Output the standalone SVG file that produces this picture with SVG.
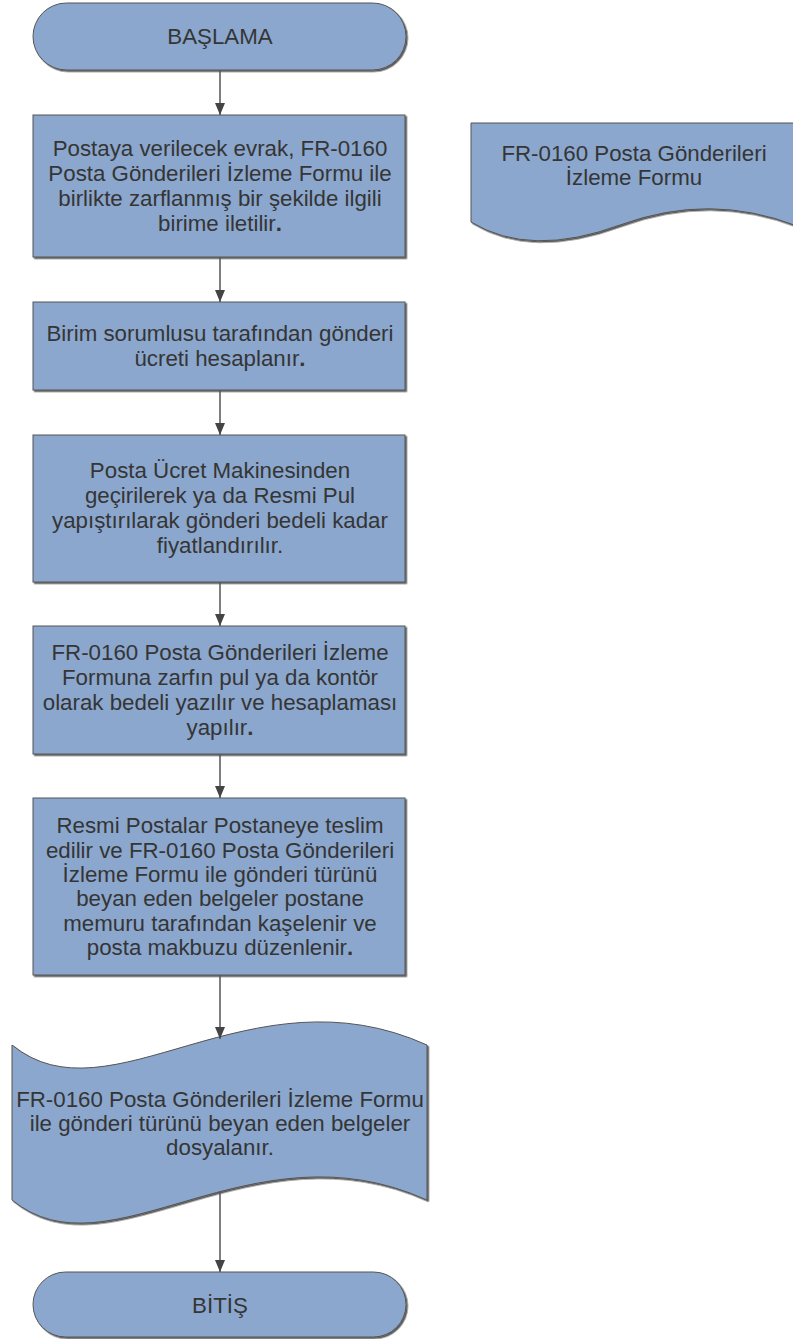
<svg xmlns="http://www.w3.org/2000/svg" width="793" height="1339" viewBox="0 0 793 1339">
<style>
.shape{fill:#8BA7CD;stroke:#555;stroke-width:1;filter:url(#sh)}
.t{font-family:"Liberation Sans",Arial,sans-serif;font-size:22.3px;fill:#353535;text-anchor:middle}
.c{stroke:#555;stroke-width:1.5;fill:none;marker-end:url(#ah)}
</style>
<defs>
<filter id="sh" x="-5%" y="-5%" width="115%" height="125%">
<feDropShadow dx="1.5" dy="1.5" stdDeviation="0.7" flood-color="#000" flood-opacity="0.65"/>
</filter>
<marker id="ah" viewBox="0 0 12 10" markerWidth="12" markerHeight="10" refX="12" refY="5" orient="auto" markerUnits="userSpaceOnUse">
<path d="M0,0 L12,5 L0,10 z" fill="#444"/>
</marker>
</defs>
<rect width="793" height="1339" fill="#fff"/>
<g id="start">
<rect class="shape" x="33" y="3" width="373" height="67" rx="33.5" ry="33.5"/>
<text class="t" x="220" y="44">BAŞLAMA</text>
</g>
<g id="step1">
<rect class="shape" x="33" y="115" width="372" height="142"/>
<text class="t" x="220" y="156">Postaya verilecek evrak, FR-0160</text>
<text class="t" x="220" y="181">Posta Gönderileri İzleme Formu ile</text>
<text class="t" x="220" y="206">birlikte zarflanmış bir şekilde ilgili</text>
<text class="t" x="220" y="231">birime iletilir<tspan font-weight="bold">.</tspan></text>
</g>
<g id="step2">
<rect class="shape" x="33" y="302" width="372" height="88"/>
<text class="t" x="220" y="341">Birim sorumlusu tarafından gönderi</text>
<text class="t" x="220" y="366">ücreti hesaplanır<tspan font-weight="bold">.</tspan></text>
</g>
<g id="step3">
<rect class="shape" x="33" y="435" width="372" height="147"/>
<text class="t" x="220" y="478">Posta Ücret Makinesinden</text>
<text class="t" x="220" y="503">geçirilerek ya da Resmi Pul</text>
<text class="t" x="220" y="528">yapıştırılarak gönderi bedeli kadar</text>
<text class="t" x="220" y="553">fiyatlandırılır.</text>
</g>
<g id="step4">
<rect class="shape" x="33" y="626" width="372" height="128"/>
<text class="t" x="220" y="660">FR-0160 Posta Gönderileri İzleme</text>
<text class="t" x="220" y="685">Formuna zarfın pul ya da kontör</text>
<text class="t" x="220" y="710">olarak bedeli yazılır ve hesaplaması</text>
<text class="t" x="220" y="735">yapılır<tspan font-weight="bold">.</tspan></text>
</g>
<g id="step5">
<rect class="shape" x="33" y="798" width="372" height="177"/>
<text class="t" x="220" y="833">Resmi Postalar Postaneye teslim</text>
<text class="t" x="220" y="858">edilir ve FR-0160 Posta Gönderileri</text>
<text class="t" x="220" y="882">İzleme Formu ile gönderi türünü</text>
<text class="t" x="220" y="906">beyan eden belgeler postane</text>
<text class="t" x="220" y="931">memuru tarafından kaşelenir ve</text>
<text class="t" x="220" y="955">posta makbuzu düzenlenir<tspan font-weight="bold">.</tspan></text>
</g>
<g id="file">
<path class="shape" d="M12,1045 C110,1125 250,965 427,1045 L427,1200 C250,1120 110,1280 12,1200 Z"/>
<text class="t" x="220" y="1107">FR-0160 Posta Gönderileri İzleme Formu</text>
<text class="t" x="220" y="1131">ile gönderi türünü beyan eden belgeler</text>
<text class="t" x="220" y="1155">dosyalanır.</text>
</g>
<g id="form">
<path class="shape" d="M471,123 V222 Q530,258 620,225 T797,226 V123 Z"/>
<text class="t" x="634" y="161">FR-0160 Posta Gönderileri</text>
<text class="t" x="634" y="185">İzleme Formu</text>
</g>
<g id="end">
<rect class="shape" x="33" y="1272" width="373" height="65" rx="32.5" ry="32.5"/>
<text class="t" x="220" y="1313">BİTİŞ</text>
</g>
<g id="connectors">
<line class="c" x1="220" y1="70" x2="220" y2="115"/>
<line class="c" x1="220" y1="257" x2="220" y2="302"/>
<line class="c" x1="220" y1="390" x2="220" y2="435"/>
<line class="c" x1="220" y1="582" x2="220" y2="626"/>
<line class="c" x1="220" y1="754" x2="220" y2="798"/>
<line class="c" x1="220" y1="975" x2="220" y2="1039"/>
<line class="c" x1="220" y1="1192" x2="220" y2="1272"/>
</g>
</svg>
